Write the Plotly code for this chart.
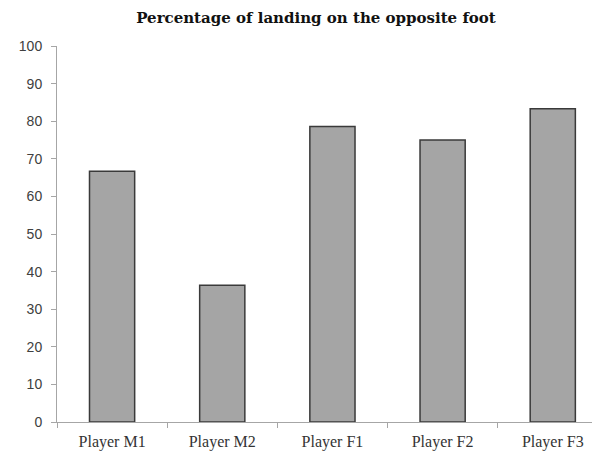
import plotly.graph_objects as go

categories = ["Player M1", "Player M2", "Player F1", "Player F2", "Player F3"]
values = [66.7, 36.4, 78.6, 75.0, 83.3]
y_ticks = list(range(0, 101, 10))
title_text = "Percentage of landing on the opposite foot"

fig = go.Figure(go.Bar(
    x=categories, y=values,
    width=0.41,
    marker=dict(color="#a5a5a5", line=dict(color="#3a3a3a", width=1.5)),
))

fig.update_layout(
    width=592, height=458,
    margin=dict(l=57, r=0, t=46, b=36),
    paper_bgcolor="white", plot_bgcolor="white",
    showlegend=False,
    title=dict(text=title_text, x=316/592, xanchor="center", y=1-18/458, yanchor="middle",
               font=dict(family="DejaVu Serif", size=15, color="#111111", weight="bold")),
)
fig.update_xaxes(
    type="category", range=[-0.5, 4.356],
    showline=True, linecolor="#a6a6a6", linewidth=1,
    ticks="outside", tickson="boundaries", ticklen=5, tickcolor="#a6a6a6",
    tickfont=dict(family="Liberation Serif", size=16, color="#333333"),
    ticklabelstandoff=5,
    showgrid=False, zeroline=False,
)
fig.update_yaxes(
    range=[0, 100], tickvals=y_ticks,
    showline=True, linecolor="#a6a6a6", linewidth=1,
    ticks="outside", ticklen=5, tickcolor="#a6a6a6",
    tickfont=dict(family="Liberation Sans", size=14, color="#404040"),
    ticklabelstandoff=6,
    showgrid=False, zeroline=False,
)

fig.write_html("out.html")
